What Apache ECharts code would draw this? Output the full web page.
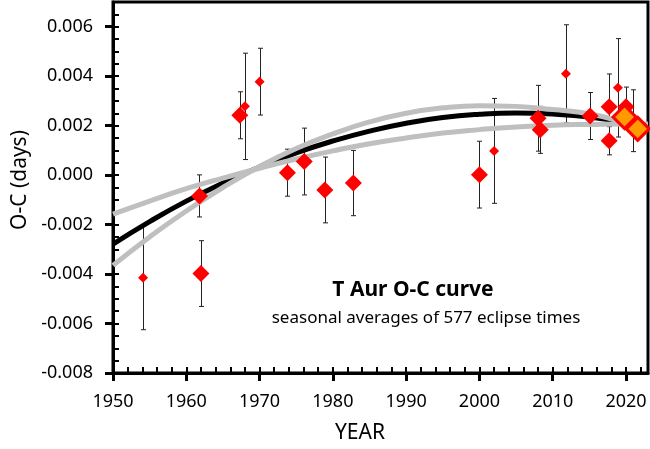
<!DOCTYPE html>
<html>
<head>
<meta charset="utf-8">
<script src="https://cdn.jsdelivr.net/npm/echarts@6/dist/echarts.min.js"></script>
<style>
  html, body { margin: 0; padding: 0; background: #fff; }
  #chart { width: 650px; height: 449px; }
</style>
</head>
<body>
<div id="chart"></div>
<script>
// seasonal averages, O-C in days, with 1-sigma errors
const smallYears = [1954.1, 1968.0, 1970.0, 2002.0, 2011.8, 2018.9];
const smallOC = [-0.00415, 0.00278, 0.00378, 0.00098, 0.00410, 0.00353];
const smallErr = [0.0021, 0.00215, 0.00135, 0.00212, 0.00198, 0.00199];

const largeYears = [1961.8, 1962.0, 1967.3, 1973.8, 1976.1, 1978.9, 1982.8, 2000.0,
  2008.0, 2008.3, 2015.1, 2017.7, 2017.7, 2020.0, 2020.9];
const largeOC = [-0.00084, -0.00398, 0.00242, 0.00010, 0.00055, -0.00060, -0.00032, 0.00002,
  0.00230, 0.00183, 0.00239, 0.00276, 0.00139, 0.00276, 0.00220];
const largeErr = [0.00085, 0.00133, 0.00095, 0.00095, 0.00135, 0.00133, 0.00132, 0.00135,
  0.00133, 0.00095, 0.00095, 0.00133, 0.00057, 0.0008, 0.00125];

// latest seasons (highlighted)
const recentYears = [2019.8, 2021.6];
const recentOC = [0.00235, 0.00187];

// fitted curve and its two bounding curves
const curveYears = [1950, 1955, 1960, 1965, 1970, 1975, 1980, 1985, 1990, 1995, 2000, 2005, 2010, 2015, 2020, 2023];
const fitOC = [-0.00279, -0.00188, -0.00105, -0.00032, 0.00033, 0.00090, 0.00138, 0.00178,
  0.00210, 0.00233, 0.00246, 0.00251, 0.00247, 0.00235, 0.00212, 0.00195];
const boundA = [-0.00158, -0.00105, -0.00055, -0.00012, 0.00028, 0.00065, 0.00098, 0.00127,
  0.00150, 0.00170, 0.00184, 0.00195, 0.00202, 0.00205, 0.00207, 0.00207];
const boundB = [-0.00365, -0.00250, -0.00145, -0.00050, 0.00035, 0.00108, 0.00167, 0.00215,
  0.00250, 0.00272, 0.00281, 0.00278, 0.00265, 0.00248, 0.00210, 0.00185];

const FONT = '"Noto Sans", sans-serif';
const chart = echarts.init(document.getElementById('chart'));

const pairs = (xs, ys) => xs.map((x, i) => [x, ys[i]]);
const triples = (xs, ys, es) => xs.map((x, i) => [x, ys[i], es[i]]);

// vertical error bar with small caps
function errorBar(params, api) {
  const x = api.value(0), y = api.value(1), e = api.value(2);
  const top = api.coord([x, y + e]);
  const bot = api.coord([x, y - e]);
  const cx = Math.round(top[0]) + 0.5;
  const w = 2.5;
  const style = { stroke: '#222', lineWidth: 1 };
  return {
    type: 'group',
    children: [
      { type: 'line', shape: { x1: cx, y1: top[1], x2: cx, y2: bot[1] }, style },
      { type: 'line', shape: { x1: cx - w, y1: top[1], x2: cx + w, y2: top[1] }, style },
      { type: 'line', shape: { x1: cx - w, y1: bot[1], x2: cx + w, y2: bot[1] }, style }
    ]
  };
}

const xBase = { type: 'value', min: 1950, max: 2023, position: 'bottom', splitLine: { show: false } };
const yBase = { type: 'value', min: -0.008, max: 0.007, position: 'left', splitLine: { show: false } };

const curve = (data, color, z) => ({
  type: 'line', data, smooth: 0.5, showSymbol: false, silent: true, z,
  lineStyle: { color, width: 5 }
});

chart.setOption({
  animation: false,
  grid: { left: 113, right: 2, top: 2, bottom: 76, show: true, borderColor: '#000', borderWidth: 3, outerBoundsMode: 'none' },
  xAxis: [
    Object.assign({}, xBase, {
      interval: 10,
      axisLine: { onZero: false, lineStyle: { color: '#000', width: 3 } },
      axisTick: { inside: false, length: 8, lineStyle: { color: '#000', width: 3 } },
      axisLabel: { color: '#000', fontSize: 18, fontFamily: FONT, margin: 20, showMaxLabel: false,
        formatter: v => String(v) }
    }),
    Object.assign({}, xBase, {
      interval: 2,
      axisLine: { show: false, onZero: false },
      axisTick: { inside: true, length: 6, lineStyle: { color: '#000', width: 2 } },
      axisLabel: { show: false }
    })
  ],
  yAxis: [
    Object.assign({}, yBase, {
      interval: 0.002,
      axisLine: { onZero: false, lineStyle: { color: '#000', width: 3 } },
      axisTick: { inside: false, length: 8, lineStyle: { color: '#000', width: 3 } },
      axisLabel: { color: '#000', fontSize: 18, fontFamily: FONT, margin: 20, showMaxLabel: false,
        formatter: v => v.toFixed(3) }
    }),
    Object.assign({}, yBase, {
      interval: 0.0005,
      axisLine: { show: false, onZero: false },
      axisTick: { inside: true, length: 6, lineStyle: { color: '#000', width: 2 } },
      axisLabel: { show: false }
    })
  ],
  series: [
    { type: 'custom', renderItem: errorBar, data: triples(smallYears, smallOC, smallErr), z: 1, silent: true },
    { type: 'custom', renderItem: errorBar, data: triples(largeYears, largeOC, largeErr), z: 1, silent: true },
    curve(pairs(curveYears, fitOC), '#000', 2),
    curve(pairs(curveYears, boundA), '#bfbfbf', 3),
    curve(pairs(curveYears, boundB), '#bfbfbf', 3),
    { type: 'scatter', data: pairs(smallYears, smallOC), symbol: 'diamond', symbolSize: 10, z: 5,
      itemStyle: { color: '#ff0000', opacity: 1 } },
    { type: 'scatter', data: pairs(largeYears, largeOC), symbol: 'diamond', symbolSize: 17, z: 5,
      itemStyle: { color: '#ff0000', opacity: 1 } },
    { type: 'scatter', data: pairs(recentYears, recentOC), symbol: 'diamond', symbolSize: 23, z: 6,
      itemStyle: { color: '#ff9900', borderColor: '#ff0000', borderWidth: 3, opacity: 1 } }
  ],
  graphic: [
    { type: 'text', x: 413, y: 290, style: { text: 'T Aur O-C curve', font: 'bold 21px "Noto Sans"', fill: '#000', align: 'center', verticalAlign: 'middle' } },
    { type: 'text', x: 426, y: 318, style: { text: 'seasonal averages of 577 eclipse times', font: '17px "Noto Sans"', fill: '#000', align: 'center', verticalAlign: 'middle' } },
    { type: 'text', x: 360, y: 433, style: { text: 'YEAR', font: '21px "Noto Sans"', fill: '#000', align: 'center', verticalAlign: 'middle' } },
    { type: 'text', x: 20, y: 180, rotation: Math.PI / 2, style: { text: 'O-C (days)', font: '21px "Noto Sans"', fill: '#000', align: 'center', verticalAlign: 'middle' } }
  ]
});
</script>
</body>
</html>
